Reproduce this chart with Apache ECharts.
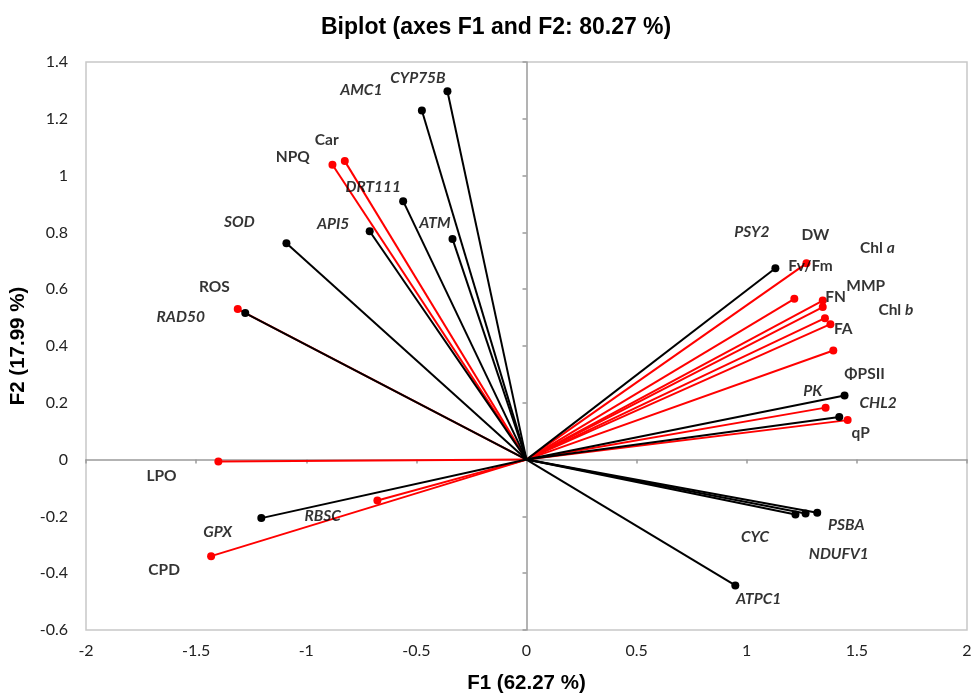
<!DOCTYPE html>
<html>
<head>
<meta charset="utf-8">
<script src="https://cdn.jsdelivr.net/npm/echarts@6/dist/echarts.min.js"></script>
<style>
  html, body { margin: 0; padding: 0; background: #fff; }
  #chart { width: 971px; height: 694px; }
</style>
</head>
<body>
<div id="chart"></div>
<script>
// variable vectors (F1, F2 loadings), red = measured traits, black = genes
var varNames = ['Car', 'NPQ', 'ROS', 'LPO', 'CPD', 'GPX',
  'Fv/Fm', 'DW', 'MMP', 'FN', 'Chl a', 'Chl b', 'FA', 'ΦPSII', 'qP',
  'CYP75B', 'AMC1', 'DRT111', 'API5', 'ATM', 'SOD', 'RAD50', 'RBSC',
  'PSY2', 'PK', 'CHL2', 'PSBA', 'NDUFV1', 'CYC', 'ATPC1'];
var varF1 = [-0.825, -0.881, -1.311, -1.399, -1.432, -0.677,
  1.271, 1.216, 1.345, 1.345, 1.355, 1.380, 1.393, 1.358, 1.458,
  -0.359, -0.475, -0.560, -0.712, -0.336, -1.090, -1.277, -1.204,
  1.130, 1.444, 1.420, 1.320, 1.267, 1.221, 0.948];
var varF2 = [1.051, 1.038, 0.530, -0.007, -0.340, -0.144,
  0.691, 0.566, 0.560, 0.537, 0.498, 0.477, 0.384, 0.183, 0.139,
  1.297, 1.229, 0.910, 0.804, 0.777, 0.762, 0.516, -0.206,
  0.674, 0.226, 0.150, -0.187, -0.190, -0.193, -0.443];
var varIsGene = [0, 0, 0, 0, 0, 0,
  0, 0, 0, 0, 0, 0, 0, 0, 0,
  1, 1, 1, 1, 1, 1, 1, 1,
  1, 1, 1, 1, 1, 1, 1];

// where each name is written (Excel moved the labels away from the points)
var labelNames = ['CYP75B', 'AMC1', 'Car', 'NPQ', 'DRT111', 'SOD', 'API5', 'ATM', 'ROS', 'RAD50',
  'PSY2', 'DW', 'Chl a', 'Fv/Fm', 'MMP', 'FN', 'Chl b', 'FA', 'ΦPSII', 'PK', 'CHL2', 'qP',
  'PSBA', 'CYC', 'NDUFV1', 'ATPC1', 'LPO', 'RBSC', 'GPX', 'CPD'];
var labelF1 = [-0.493, -0.750, -0.907, -1.061, -0.696, -1.304, -0.878, -0.416, -1.417, -1.570,
  1.023, 1.312, 1.593, 1.289, 1.540, 1.403, 1.677, 1.438, 1.535, 1.300, 1.596, 1.517,
  1.452, 1.038, 1.418, 1.054, -1.657, -0.925, -1.402, -1.645];
var labelF2 = [1.344, 1.303, 1.125, 1.066, 0.959, 0.838, 0.828, 0.832, 0.606, 0.502,
  0.800, 0.791, 0.746, 0.680, 0.612, 0.574, 0.527, 0.460, 0.302, 0.240, 0.201, 0.094,
  -0.232, -0.272, -0.334, -0.492, -0.059, -0.197, -0.254, -0.390];
var geneLabels = ['CYP75B', 'AMC1', 'DRT111', 'SOD', 'API5', 'ATM', 'RAD50', 'PSY2', 'PK', 'CHL2',
  'PSBA', 'CYC', 'NDUFV1', 'ATPC1', 'RBSC', 'GPX'];

var chart = echarts.init(document.getElementById('chart'));

var series = [];
varNames.forEach(function (name, i) {
  var col = varIsGene[i] ? '#000000' : '#ff0000';
  series.push({
    name: name,
    type: 'line',
    xAxisIndex: 0,
    yAxisIndex: 0,
    data: [{ value: [0, 0], symbol: 'none' }, [varF1[i], varF2[i]]],
    symbol: 'circle',
    symbolSize: 8,
    lineStyle: { color: col, width: 2 },
    itemStyle: { color: col },
    animation: false,
    silent: true,
    z: varIsGene[i] ? 3 : 2
  });
});

series.push({
  type: 'scatter',
  xAxisIndex: 0,
  yAxisIndex: 0,
  symbolSize: 0,
  silent: true,
  animation: false,
  z: 5,
  data: labelNames.map(function (n, i) {
    return { name: n, value: [labelF1[i], labelF2[i]] };
  }),
  label: {
    show: true,
    position: 'inside',
    color: '#000',
    formatter: function (p) {
      var m = /^Chl (\w)$/.exec(p.name);
      if (m) return '{n|Chl }{i|' + m[1] + '}';
      if (geneLabels.indexOf(p.name) >= 0) return '{i|' + p.name + '}';
      return '{n|' + p.name + '}';
    },
    rich: {
      n: { fontFamily: 'Lato', fontWeight: 'bold', fontSize: 15.5, color: '#000' },
      i: { fontFamily: 'Lato', fontWeight: 'bold', fontStyle: 'italic', fontSize: 15.5, color: '#000' }
    }
  }
});

var tickFont = { fontFamily: 'Lato', fontSize: 16, color: '#222' };
var nameFont = { fontFamily: 'Liberation Sans', fontWeight: 'bold', fontSize: 20.5, color: '#000' };

option = {
  backgroundColor: '#fff',
  title: {
    text: 'Biplot (axes F1 and F2: 80.27 %)',
    left: 316,
    top: 11,
    textStyle: { fontFamily: 'Liberation Sans', fontWeight: 'bold', fontSize: 23, color: '#000' }
  },
  grid: {
    left: 86,
    right: 4,
    top: 62,
    bottom: 64,
    containLabel: false,
    outerBoundsMode: 'none',
    show: true,
    borderColor: '#c8c8c8',
    borderWidth: 1.5
  },
  xAxis: [
    {
      type: 'value', min: -2, max: 2, interval: 0.5, position: 'bottom',
      axisLine: { show: false, onZero: false },
      axisTick: { show: false },
      splitLine: { show: false },
      axisLabel: Object.assign({ margin: 13 }, tickFont),
      name: 'F1 (62.27 %)',
      nameLocation: 'middle',
      nameGap: 43,
      nameTextStyle: nameFont
    },
    {
      type: 'value', min: -2, max: 2, interval: 0.5, position: 'bottom',
      axisLine: { show: true, onZero: true, onZeroAxisIndex: 0, lineStyle: { color: '#9a9a9a', width: 1.5 } },
      axisTick: { show: true, length: 4, lineStyle: { color: '#9a9a9a', width: 1.5 } },
      axisLabel: { show: false },
      splitLine: { show: false }
    }
  ],
  yAxis: [
    {
      type: 'value', min: -0.6, max: 1.4, interval: 0.2, position: 'left',
      axisLine: { show: false, onZero: false },
      axisTick: { show: false },
      splitLine: { show: false },
      axisLabel: Object.assign({ margin: 18, formatter: function (v) { return String(+v.toFixed(1)); } }, tickFont),
      name: 'F2 (17.99 %)',
      nameLocation: 'middle',
      nameGap: 53,
      nameRotate: 90,
      nameTextStyle: nameFont
    },
    {
      type: 'value', min: -0.6, max: 1.4, interval: 0.2, position: 'left',
      axisLine: { show: true, onZero: true, onZeroAxisIndex: 0, lineStyle: { color: '#9a9a9a', width: 1.5 } },
      axisTick: { show: true, length: 4, lineStyle: { color: '#9a9a9a', width: 1.5 } },
      axisLabel: { show: false },
      splitLine: { show: false }
    }
  ],
  series: series
};

chart.setOption(option);

window.addEventListener('resize', function () {
  chart.resize();
});
</script>
</body>
</html>
